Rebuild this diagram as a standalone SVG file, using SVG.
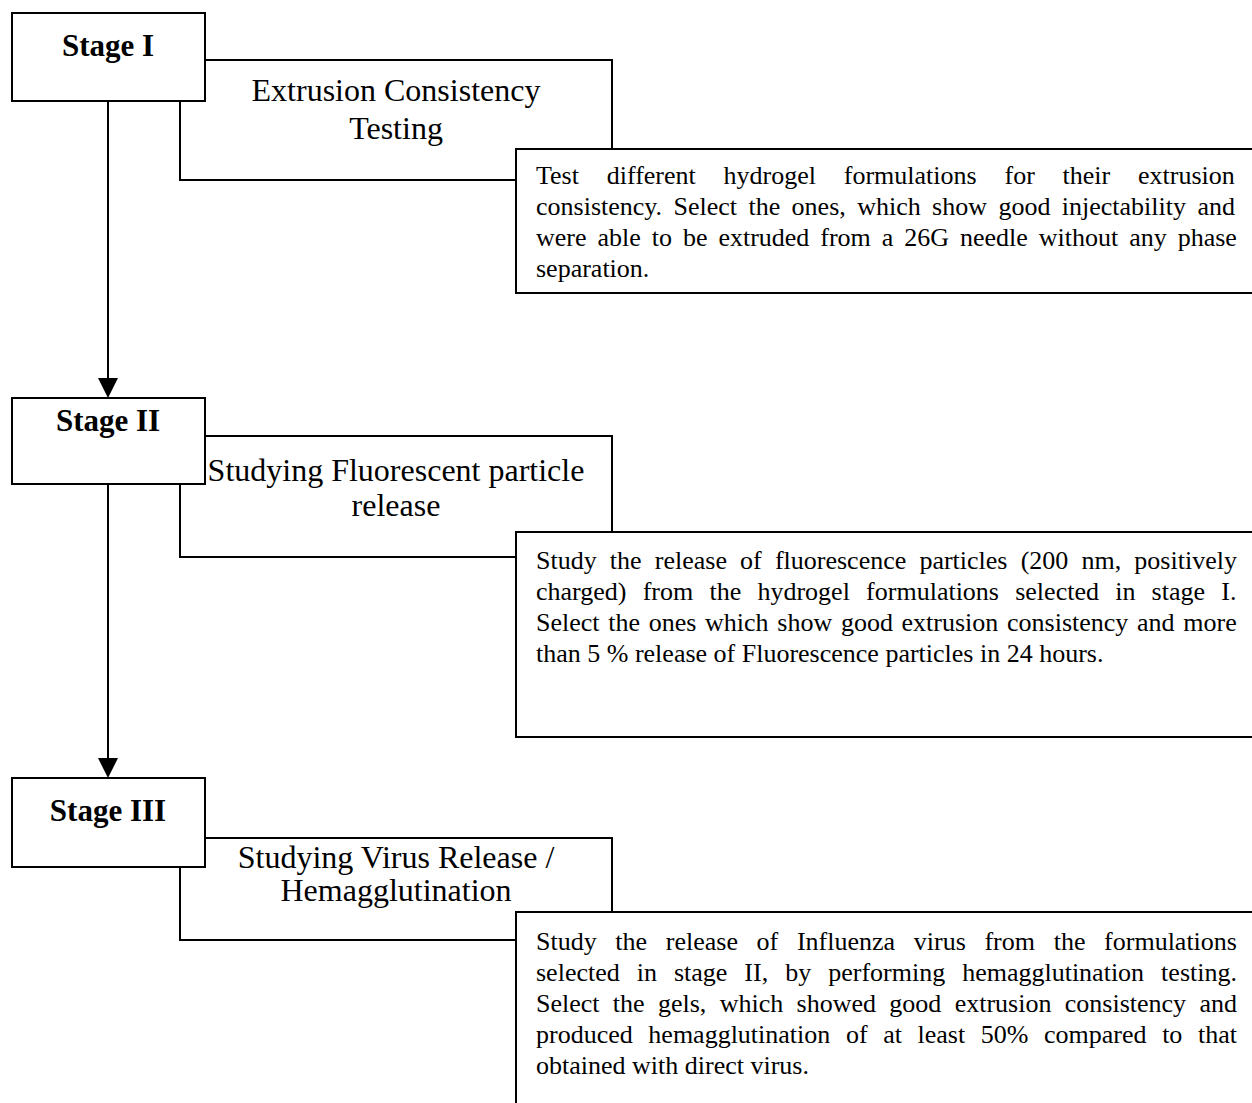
<svg xmlns="http://www.w3.org/2000/svg" width="1252" height="1103" viewBox="0 0 1252 1103">
<defs>
<style>
.box{fill:#fff;stroke:#000;stroke-width:2}
.stage{font-family:"Liberation Serif","Times New Roman",serif;font-weight:bold;font-size:31px;text-anchor:middle;fill:#000}
.title{font-family:"Liberation Serif","Times New Roman",serif;font-size:32px;text-anchor:middle;fill:#000}
.desc{font-family:"Liberation Serif","Times New Roman",serif;font-size:26px;fill:#000}
.conn{stroke:#000;stroke-width:2;fill:none}
</style>
</defs>
<rect width="1252" height="1103" fill="#fff"/>
<g id="connectors">
<line class="conn" x1="108" y1="101" x2="108" y2="380"/>
<polygon points="98,378 118,378 108,398" fill="#000"/>
<line class="conn" x1="108" y1="484" x2="108" y2="760"/>
<polygon points="98,758 118,758 108,778" fill="#000"/>
</g>
<g id="stage1">
<rect class="box" x="180" y="60" width="432" height="120"/>
<rect class="box" x="12" y="13" width="193" height="88"/>
<text class="stage" x="108" y="56">Stage I</text>
<text class="title" x="396" y="101">Extrusion Consistency</text>
<text class="title" x="396" y="139">Testing</text>
<rect class="box" x="516" y="149" width="750" height="144"/>
<text class="desc" x="536" y="184" word-spacing="21.3">Test different hydrogel formulations for their extrusion</text>
<text class="desc" x="536" y="215" word-spacing="4.9">consistency. Select the ones, which show good injectability and</text>
<text class="desc" x="536" y="246" word-spacing="4.45">were able to be extruded from a 26G needle without any phase</text>
<text class="desc" x="536" y="277">separation.</text>
</g>
<g id="stage2">
<rect class="box" x="180" y="436" width="432" height="121"/>
<rect class="box" x="12" y="398" width="193" height="86"/>
<text class="stage" x="108" y="431">Stage II</text>
<text class="title" x="396" y="481">Studying Fluorescent particle</text>
<text class="title" x="396" y="516">release</text>
<rect class="box" x="516" y="532" width="750" height="205"/>
<text class="desc" x="536" y="569" word-spacing="6.66">Study the release of fluorescence particles (200 nm, positively</text>
<text class="desc" x="536" y="600" word-spacing="9.73">charged) from the hydrogel formulations selected in stage I.</text>
<text class="desc" x="536" y="631" word-spacing="2.2">Select the ones which show good extrusion consistency and more</text>
<text class="desc" x="536" y="662">than 5 % release of Fluorescence particles in 24 hours.</text>
</g>
<g id="stage3">
<rect class="box" x="180" y="838" width="432" height="102"/>
<rect class="box" x="12" y="778" width="193" height="89"/>
<text class="stage" x="108" y="821">Stage III</text>
<text class="title" x="396" y="868">Studying Virus Release /</text>
<text class="title" x="396" y="901">Hemagglutination</text>
<rect class="box" x="516" y="912" width="750" height="200"/>
<text class="desc" x="536" y="950" word-spacing="12.17">Study the release of Influenza virus from the formulations</text>
<text class="desc" x="536" y="981" word-spacing="10.5">selected in stage II, by performing hemagglutination testing.</text>
<text class="desc" x="536" y="1012" word-spacing="6.84">Select the gels, which showed good extrusion consistency and</text>
<text class="desc" x="536" y="1043" word-spacing="9.1">produced hemagglutination of at least 50% compared to that</text>
<text class="desc" x="536" y="1074">obtained with direct virus.</text>
</g>
</svg>
